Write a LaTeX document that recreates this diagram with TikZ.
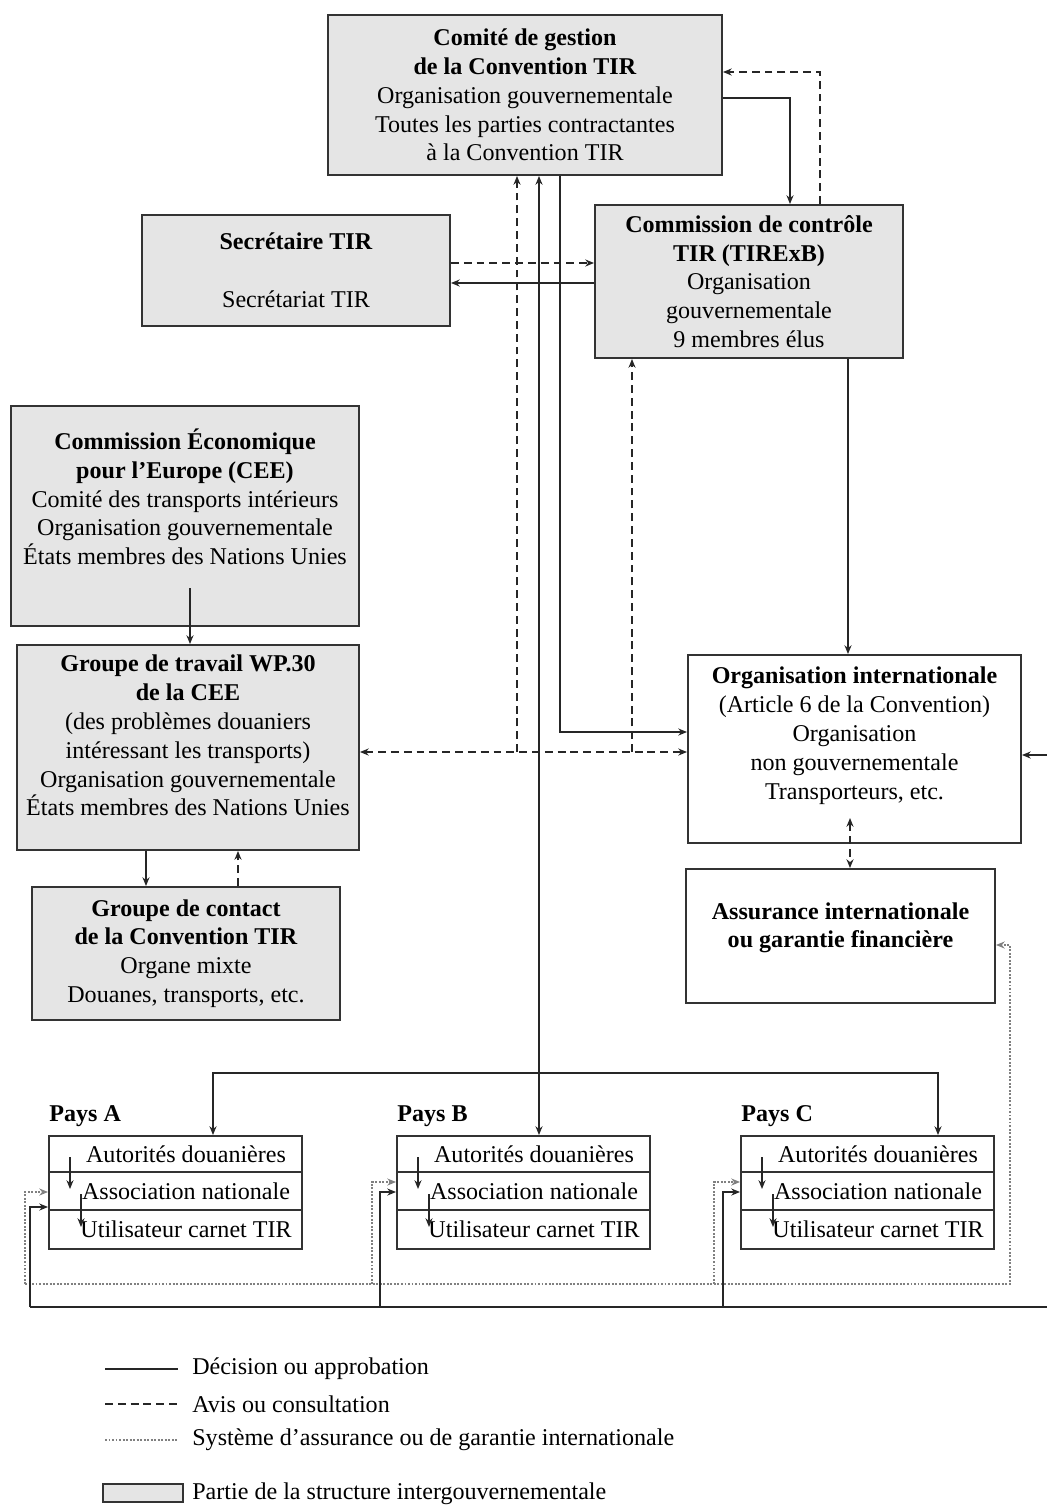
\documentclass[tikz,border=0pt]{standalone}
\usepackage{fontspec}
\setmainfont{Liberation Serif}
\usetikzlibrary{arrows.meta}

\newcommand{\chartfont}{\fontsize{13.7}{16.4}\selectfont}

\tikzset{
  govbox/.style={draw=black!80, line width=1.1pt, fill=black!10, align=center, inner sep=0pt},
  ngobox/.style={govbox, fill=white},
  rowbox/.style={draw=black!80, line width=1.1pt, fill=white, minimum width=5.06cm, inner sep=0pt},
  decision/.style={black!85, line width=0.85pt},
  advice/.style={black!85, line width=0.85pt, dash pattern=on 4.5pt off 2.8pt},
  insure/.style={black!50, line width=0.8pt, dash pattern=on 1.1pt off 0.9pt},
  fwd/.style={-{Stealth[length=5pt,width=4pt]}},
  twoway/.style={{Stealth[length=5pt,width=4pt]}-{Stealth[length=5pt,width=4pt]}},
  legtext/.style={anchor=west, inner sep=0pt}
}

\begin{document}
\begin{tikzpicture}[x=0.02cm, y=-0.02cm, font=\chartfont]
  \useasboundingbox (0,0) rectangle (1047,1505);
  % intergovernmental boxes
  \node[govbox, minimum width=7.88cm, minimum height=3.2cm] (comite) at (525,95)
    {\textbf{Comité de gestion}\\\textbf{de la Convention TIR}\\Organisation gouvernementale\\Toutes les parties contractantes\\à la Convention TIR};
  \node[govbox, minimum width=6.16cm, minimum height=2.22cm] (secr) at (296,270.5)
    {\textbf{Secrétaire TIR}\\\mbox{}\\Secrétariat TIR};
  \node[govbox, minimum width=6.16cm, minimum height=3.06cm] (tirexb) at (749,281.5)
    {\textbf{Commission de contrôle}\\\textbf{TIR (TIRExB)}\\Organisation\\gouvernementale\\9 membres élus};
  \node[govbox, minimum width=6.96cm, minimum height=4.4cm] (cee) at (185,516)
    {\textbf{Commission Économique}\\\textbf{pour l'Europe (CEE)}\\Comité des transports intérieurs\\Organisation gouvernementale\\États membres des Nations Unies\\[5.5pt]\mbox{}};
  \node[govbox, minimum width=6.84cm, minimum height=4.1cm] (wp) at (188,747.5)
    {\textbf{Groupe de travail WP.30}\\\textbf{de la CEE}\\(des problèmes douaniers\\intéressant les transports)\\Organisation gouvernementale\\États membres des Nations Unies\\[-2.8pt]\mbox{}};
  \node[govbox, minimum width=6.16cm, minimum height=2.66cm] (contact) at (186,953.5)
    {\textbf{Groupe de contact}\\\textbf{de la Convention TIR}\\Organe mixte\\Douanes, transports, etc.};
  % non governmental boxes
  \node[ngobox, minimum width=6.66cm, minimum height=3.76cm] (orgint) at (854.5,749)
    {\textbf{Organisation internationale}\\(Article 6 de la Convention)\\Organisation\\non gouvernementale\\Transporteurs, etc.\\[1.7pt]\mbox{}};
  \node[ngobox, minimum width=6.18cm, minimum height=2.68cm] (assur) at (840.5,936)
    {\textbf{Assurance internationale}\\\textbf{ou garantie financière}\\[-4pt]\mbox{}};

  % countries
  \foreach \c/\l in {A/49,B/397,C/741}{
    \node[anchor=west, inner sep=0pt, font=\chartfont\bfseries] (pays\c) at (\l,1116) {Pays \c};
    \node[rowbox, minimum height=0.72cm] (aut\c) at (\l+126.5,1154) {\hspace*{12pt}Autorités douanières};
    \node[rowbox, minimum height=0.76cm] (asso\c) at (\l+126.5,1191) {\hspace*{12pt}Association nationale};
    \node[rowbox, minimum height=0.78cm] (user\c) at (\l+126.5,1229.5) {\hspace*{12pt}Utilisateur carnet TIR};
    \draw[decision,fwd] (\l+21,1157) -- (\l+21,1189);
    \draw[decision,fwd] (\l+32,1194) -- (\l+32,1227);
  }

  % top part
  \draw[decision,fwd] (comite.east |- 0,98) -| (790,0 |- tirexb.north);
  \draw[advice,fwd] (820,0 |- tirexb.north) |- (comite.east |- 0,72);
  \draw[advice,fwd] (secr.east |- 0,263) -- (tirexb.west |- 0,263);
  \draw[decision,fwd] (tirexb.west |- 0,283) -- (secr.east |- 0,283);
  \draw[decision,fwd] (848,0 |- tirexb.south) -- (848,0 |- orgint.north);
  \draw[decision,fwd] (560,0 |- comite.south) |- (orgint.west |- 0,732);

  % consultation line
  \coordinate (advA) at (517,752);
  \coordinate (advB) at (632,752);
  \draw[advice,twoway] (wp.east |- advA) -- (orgint.west |- advA);
  \draw[advice,fwd] (advA) -- (517,0 |- comite.south);
  \draw[advice,fwd] (advB) -- (632,0 |- tirexb.south);

  % left column
  \draw[decision,fwd] (190,588) -- (190,0 |- wp.north);
  \draw[decision,fwd] (146,0 |- wp.south) -- (146,0 |- contact.north);
  \draw[advice,fwd] (238,0 |- contact.north) -- (238,0 |- wp.south);
  \draw[advice,twoway] (850,818) -- (850,0 |- assur.north);

  % committee to countries
  \coordinate (split) at (539,1073);
  \draw[decision,twoway] (539,0 |- comite.south) -- (539,0 |- autB.north);
  \draw[decision,fwd] (split) -| (213,0 |- autA.north);
  \draw[decision,fwd] (split) -| (938,0 |- autC.north);

  % bottom loops
  \draw[insure,fwd] (25,1284) -- (1010,1284) |- (assur.east |- 0,945);
  \draw[insure,fwd] (25,1284) |- (assoA.west |- 0,1192);
  \draw[insure,fwd] (372,1284) |- (assoB.west |- 0,1182);
  \draw[insure,fwd] (714,1284) |- (assoC.west |- 0,1182);
  \draw[decision] (30,1307) -- (1047,1307);
  \draw[decision,fwd] (30,1307) |- (assoA.west |- 0,1207);
  \draw[decision,fwd] (380,1307) |- (assoB.west |- 0,1192);
  \draw[decision,fwd] (723,1307) |- (assoC.west |- 0,1192);
  \draw[decision,fwd] (1047,755) -- (orgint.east |- 0,755);

  % legend
  \draw[decision] (105,1369) -- (178,1369);
  \node[legtext] (legdec) at (192,1369) {Décision ou approbation};
  \draw[advice] (105,1404) -- (178,1404);
  \node[legtext] (legadv) at (192,1404) {Avis ou consultation};
  \draw[insure] (105,1440) -- (178,1440);
  \node[legtext] (legins) at (192,1440) {Système d'assurance ou de garantie internationale};
  \node[govbox, minimum width=1.6cm, minimum height=0.36cm] (leggov) at (143,1493) {};
  \node[legtext] (leggovtext) at (192,1494) {Partie de la structure intergouvernementale};
\end{tikzpicture}
\end{document}
